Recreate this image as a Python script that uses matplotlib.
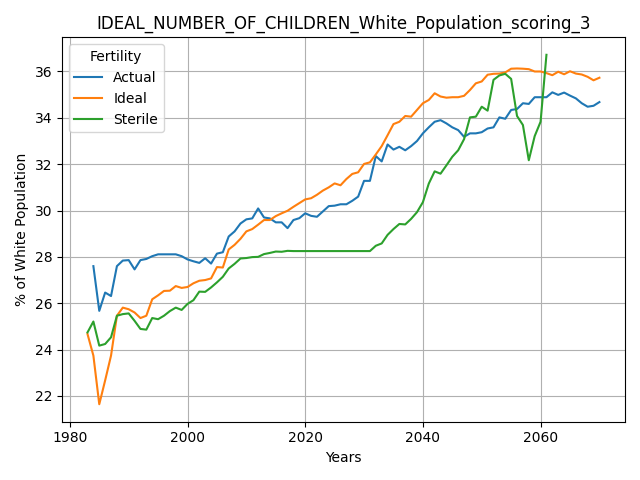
import matplotlib
matplotlib.use("Agg")
import matplotlib.pyplot as plt
import numpy as np

years_actual = list(range(1984, 2071))
actual = [27.6, 25.67, 26.46, 26.31, 27.6, 27.84, 27.86, 27.46, 27.86, 27.91,
          28.03, 28.11, 28.11, 28.11, 28.11, 28.03, 27.89, 27.81, 27.74, 27.94,
          27.71, 28.14, 28.2, 28.88, 29.1, 29.44, 29.62, 29.66, 30.09, 29.7,
          29.66, 29.49, 29.49, 29.24, 29.59, 29.67, 29.88, 29.77, 29.73, 29.96,
          30.19, 30.21, 30.27, 30.27, 30.42, 30.6, 31.28, 31.28, 32.35, 32.12,
          32.85, 32.63, 32.75, 32.6, 32.78, 33.0, 33.33, 33.59, 33.83, 33.9,
          33.76, 33.59, 33.47, 33.18, 33.33, 33.33, 33.38, 33.54, 33.59, 34.02,
          33.96, 34.34, 34.38, 34.63, 34.6, 34.89, 34.89, 34.89, 35.1, 34.99,
          35.09, 34.96, 34.84, 34.63, 34.48, 34.52, 34.68]

years_ideal = list(range(1983, 2071))
ideal = [24.67, 23.74, 21.64, 22.67, 23.74, 25.46, 25.81, 25.74, 25.6, 25.36,
         25.46, 26.17, 26.34, 26.53, 26.54, 26.74, 26.66, 26.7, 26.86, 26.97,
         27.0, 27.07, 27.56, 27.54, 28.32, 28.52, 28.78, 29.1, 29.2, 29.39,
         29.59, 29.59, 29.76, 29.88, 29.99, 30.16, 30.32, 30.48, 30.53, 30.68,
         30.86, 31.0, 31.17, 31.09, 31.36, 31.58, 31.65, 32.01, 32.08, 32.42,
         32.78, 33.25, 33.73, 33.83, 34.08, 34.05, 34.34, 34.63, 34.77, 35.06,
         34.92, 34.87, 34.89, 34.89, 34.95, 35.2, 35.49, 35.57, 35.86, 35.9,
         35.91, 35.96, 36.12, 36.13, 36.12, 36.1, 36.0, 36.0, 35.93, 35.84,
         35.99, 35.88, 36.01, 35.91, 35.87, 35.77, 35.62, 35.73]

years_sterile = list(range(1983, 2062))
sterile = [24.74, 25.21, 24.17, 24.24, 24.53, 25.46, 25.53, 25.56, 25.24, 24.89,
           24.86, 25.36, 25.31, 25.46, 25.66, 25.81, 25.71, 25.97, 26.13, 26.5,
           26.49, 26.68, 26.9, 27.14, 27.5, 27.7, 27.93, 27.95, 27.99, 28.0,
           28.12, 28.17, 28.23, 28.22, 28.26, 28.25, 28.25, 28.25, 28.25, 28.25,
           28.25, 28.25, 28.25, 28.25, 28.25, 28.25, 28.25, 28.25, 28.25, 28.48,
           28.58, 28.95, 29.2, 29.42, 29.4, 29.64, 29.93, 30.36, 31.16, 31.69,
           31.59, 31.95, 32.32, 32.6, 33.08, 34.02, 34.05, 34.48, 34.31, 35.64,
           35.83, 35.9, 35.68, 34.08, 33.69, 32.17, 33.21, 33.83, 36.72]

fig, ax = plt.subplots(figsize=(6.4, 4.8), dpi=100)
ax.plot(years_actual, actual, label="Actual", color="#1f77b4")
ax.plot(years_ideal, ideal, label="Ideal", color="#ff7f0e")
ax.plot(years_sterile, sterile, label="Sterile", color="#2ca02c")
ax.set_title("IDEAL_NUMBER_OF_CHILDREN_White_Population_scoring_3")
ax.set_xlabel("Years")
ax.set_ylabel("% of White Population")
ax.grid(True)
ax.legend(title="Fertility", loc="upper left")
fig.tight_layout()
fig.savefig("out.png")
